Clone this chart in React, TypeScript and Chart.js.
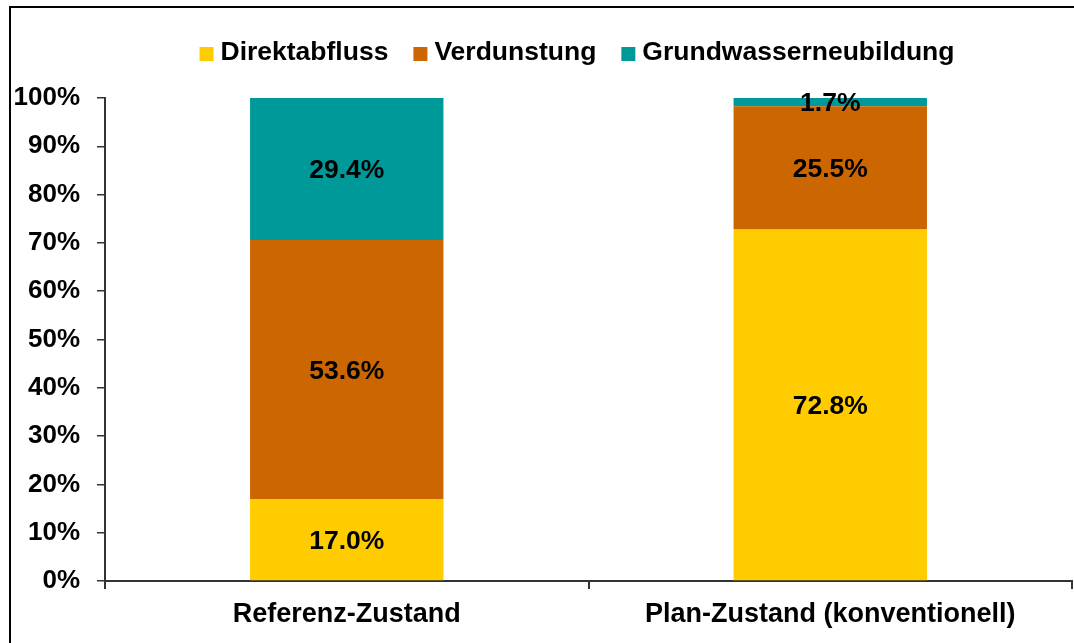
import React, { useEffect, useRef } from "react";
import { Chart, registerables } from "chart.js";

Chart.register(...registerables);

const categories = ["Referenz-Zustand", "Plan-Zustand (konventionell)"];
const seriesNames = ["Direktabfluss", "Verdunstung", "Grundwasserneubildung"];
const direktabfluss = [17.0, 72.8];
const verdunstung = [53.6, 25.5];
const grundwasser = [29.4, 1.7];
const seriesColors = ["#FFCC00", "#CC6600", "#009999"];

const FONT = "'Liberation Sans', Arial, Helvetica, sans-serif";

const labelPlugin = {
  id: "segLabels",
  afterDatasetsDraw(chart: any) {
    const ctx = chart.ctx;
    ctx.save();
    ctx.font = `bold 26.5px ${FONT}`;
    ctx.fillStyle = "#000";
    ctx.textAlign = "center";
    ctx.textBaseline = "middle";
    chart.data.datasets.forEach((ds: any, i: number) => {
      const meta = chart.getDatasetMeta(i);
      meta.data.forEach((el: any, j: number) => {
        const v = ds.data[j];
        const y = (el.y + el.base) / 2;
        ctx.fillText(v.toFixed(1) + "%", el.x, y + 2);
      });
    });
    ctx.restore();
  },
};

const legendPlugin = {
  id: "customLegend",
  afterDraw(chart: any) {
    const ctx = chart.ctx;
    ctx.save();
    ctx.font = `bold 26.5px ${FONT}`;
    ctx.textBaseline = "middle";
    ctx.textAlign = "left";
    const box = 14;
    const gapText = 7;
    const gapItem = 25;
    const items = chart.data.datasets.map((ds: any) => ({
      label: ds.label,
      color: ds.backgroundColor,
      w: ctx.measureText(ds.label).width,
    }));
    const total = items.reduce((s: number, it: any) => s + box + gapText + it.w, 0) + gapItem * (items.length - 1);
    const centerX = 577;
    const cy = 53;
    let x = centerX - total / 2;
    items.forEach((it: any) => {
      ctx.fillStyle = it.color;
      ctx.fillRect(x, cy - box / 2 + 1, box, box);
      x += box + gapText;
      ctx.fillStyle = "#000";
      ctx.fillText(it.label, x, cy);
      x += it.w + gapItem;
    });
    ctx.restore();
  },
};

export default function App() {
  const ref = useRef<HTMLCanvasElement | null>(null);
  useEffect(() => {
    if (!ref.current) return;
    const values = [direktabfluss, verdunstung, grundwasser];
    const chart = new Chart(ref.current, {
      type: "bar",
      data: {
        labels: categories,
        datasets: seriesNames.map((name, i) => ({
          label: name,
          data: values[i],
          backgroundColor: seriesColors[i],
          borderWidth: 0,
          barPercentage: 0.4,
          categoryPercentage: 1,
        })),
      },
      options: {
        responsive: false,
        animation: false,
        layout: { padding: { top: 98, right: 2, left: 0, bottom: 0 } },
        plugins: {
          legend: { display: false },
          tooltip: { enabled: false },
        },
        scales: {
          x: {
            stacked: true,
            afterFit: (s: any) => {
              s.height = 62;
            },
            grid: {
              drawOnChartArea: false,
              drawTicks: true,
              tickLength: 8,
              color: "#333",
              lineWidth: 2,
              offset: true,
            },
            border: { display: true, color: "#333", width: 2 },
            ticks: {
              color: "#000",
              padding: 9,
              font: { family: FONT, size: 27, weight: "bold" },
              maxRotation: 0,
            },
          },
          y: {
            stacked: true,
            min: 0,
            max: 100,
            afterFit: (s: any) => {
              s.width = 105;
            },
            grid: {
              drawOnChartArea: false,
              drawTicks: true,
              tickLength: 8,
              color: "#333",
              lineWidth: 1.5,
            },
            border: { display: true, color: "#333", width: 2 },
            ticks: {
              stepSize: 10,
              color: "#000",
              padding: 17,
              font: { family: FONT, size: 26, weight: "bold" },
              callback: (v: any) => v + "%",
            },
          },
        },
      },
      plugins: [labelPlugin, legendPlugin],
    } as any);
    return () => chart.destroy();
  }, []);

  return (
    <div style={{ position: "fixed", left: 0, top: 0, width: 1074, height: 643, background: "#fff" }}>
      <canvas ref={ref} width={1074} height={643} style={{ position: "absolute", left: 0, top: 0 }} />
      <div
        style={{
          position: "absolute",
          left: 9,
          top: 6,
          right: 0,
          bottom: 0,
          borderTop: "2px solid #000",
          borderLeft: "2px solid #000",
          pointerEvents: "none",
        }}
      />
    </div>
  );
}
